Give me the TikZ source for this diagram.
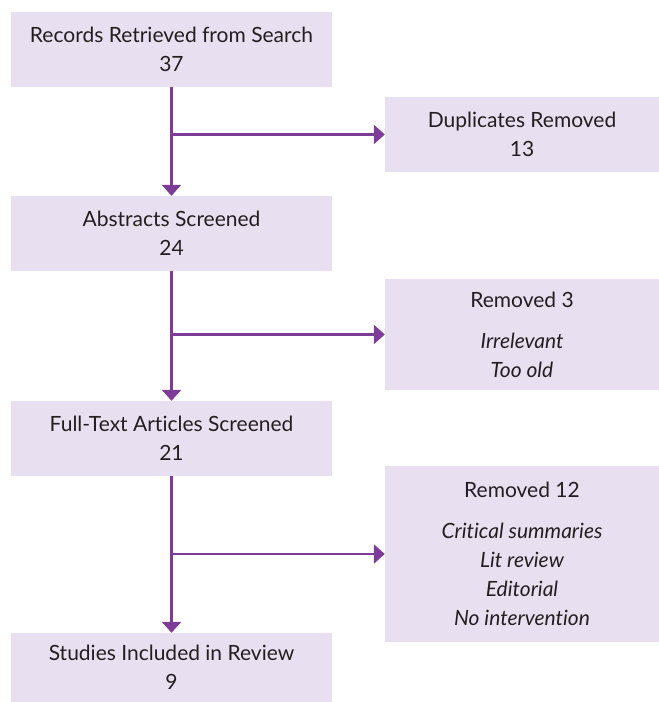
\documentclass[tikz,border=0pt]{standalone}
\usepackage{fontspec}
\setmainfont{Lato}[Ligatures={CommonOff}]
\usetikzlibrary{arrows.meta}
\definecolor{boxfill}{HTML}{E8E0F0}
\definecolor{arrowpurple}{HTML}{7D3C98}
\definecolor{textdark}{HTML}{231F20}
\begin{document}
\begin{tikzpicture}[x=1pt,y=-1pt,
  box/.style={fill=boxfill,draw=none,inner sep=0pt,align=center,text=textdark,
    font=\fontsize{21}{29}\selectfont},
  leftbox/.style={box,minimum width=321pt},
  rightbox/.style={box,minimum width=274pt},
  arr/.style={draw=arrowpurple,line width=2.5pt,-{Triangle[width=19pt,length=11pt]}}]
\useasboundingbox (0,0) rectangle (659,702);
\node[leftbox,minimum height=75pt] (b1) at (171.5,49.5) {Records Retrieved from Search\\37};
\node[rightbox,minimum height=75pt] (dup) at (522,134.5) {Duplicates Removed\\13};
\node[leftbox,minimum height=75pt] (b2) at (171.5,233.5) {Abstracts Screened\\24};
\node[rightbox,minimum height=111pt] (r3) at (522,334.5) {Removed 3\\[12pt]\itshape Irrelevant\\\itshape Too old};
\node[leftbox,minimum height=75pt] (b3) at (171.5,438.5) {Full-Text Articles Screened\\21};
\node[rightbox,minimum height=176pt] (r12) at (522,554) {Removed 12\\[12pt]\itshape Critical summaries\\\itshape Lit review\\\itshape Editorial\\\itshape No intervention};
\node[leftbox,minimum height=69pt] (b4) at (171.5,667.5) {Studies Included in Review\\9};
\draw[arr] (b1.south) -- (b2.north);
\draw[arr] (b1.south |- dup.west) -- (dup.west);
\draw[arr] (b2.south) -- (b3.north);
\draw[arr] (b2.south |- r3.west) -- (r3.west);
\draw[arr] (b3.south) -- (b4.north);
\draw[arr] (b3.south |- r12.west) -- (r12.west);
\end{tikzpicture}
\end{document}
